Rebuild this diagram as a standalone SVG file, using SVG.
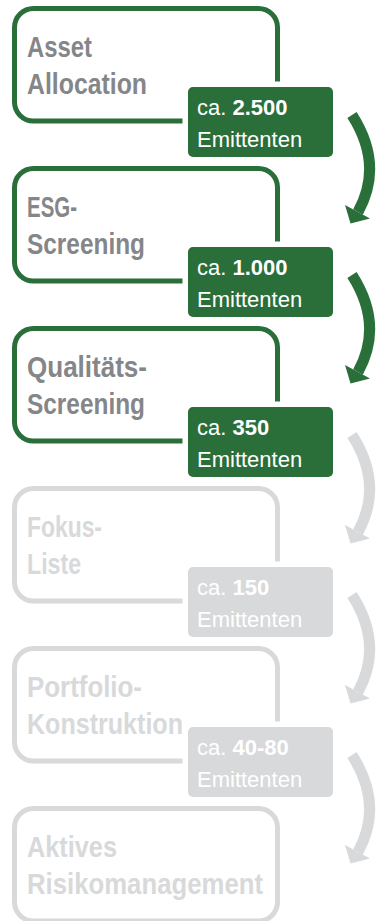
<svg xmlns="http://www.w3.org/2000/svg" xmlns:xlink="http://www.w3.org/1999/xlink" width="376" height="921" viewBox="0 0 376 921">
<style>
.box{fill:#fff;stroke-width:5}
.on .box{stroke:#2a6e39}
.off .box{stroke:#d8d9da}
.t{font-family:"Liberation Sans",Arial,sans-serif;font-weight:bold;font-size:30px}
.on .t{fill:#858689}
.off .t{fill:#d8d9da}
.badge{stroke:#fff;stroke-width:11;paint-order:stroke}
.on .badge{fill:#2a6e39}
.off .badge{fill:#d8d9da}
.b{font-family:"Liberation Sans",Arial,sans-serif;font-size:22px;fill:#fff}
.b tspan{font-weight:bold}
.arr-on{color:#2a6e39}
.arr-off{color:#d8d9da}
</style>
<defs>
<g id="arrow">
<path d="M352,115 Q384,165 358,212" fill="none" stroke="currentColor" stroke-width="11"/>
<polygon points="345,205 370,218.5 350.5,223.5" fill="currentColor"/>
</g>
</defs>
<g id="connectors">
<use xlink:href="#arrow" class="arr-on"/>
<use xlink:href="#arrow" class="arr-on" transform="translate(0,160)"/>
<use xlink:href="#arrow" class="arr-off" transform="translate(0,320)"/>
<use xlink:href="#arrow" class="arr-off" transform="translate(0,480)"/>
<use xlink:href="#arrow" class="arr-off" transform="translate(0,640)"/>
</g>
<g id="asset-allocation" class="on">
<rect class="box" x="14.5" y="8.5" width="263" height="112.5" rx="19"/>
<text class="t" x="27" y="56.5" textLength="65" lengthAdjust="spacingAndGlyphs">Asset</text>
<text class="t" x="27" y="93.5" textLength="120" lengthAdjust="spacingAndGlyphs">Allocation</text>
<rect class="badge" x="188" y="87" width="145" height="70" rx="5"/>
<text class="b" x="197" y="115">ca. <tspan>2.500</tspan></text>
<text class="b" x="197" y="147">Emittenten</text>
</g>
<g id="esg-screening" class="on" transform="translate(0,160)">
<rect class="box" x="14.5" y="8.5" width="263" height="112.5" rx="19"/>
<text class="t" x="27" y="56.5" textLength="50" lengthAdjust="spacingAndGlyphs">ESG-</text>
<text class="t" x="27" y="93.5" textLength="118" lengthAdjust="spacingAndGlyphs">Screening</text>
<rect class="badge" x="188" y="87" width="145" height="70" rx="5"/>
<text class="b" x="197" y="115">ca. <tspan>1.000</tspan></text>
<text class="b" x="197" y="147">Emittenten</text>
</g>
<g id="qualitaets-screening" class="on" transform="translate(0,320)">
<rect class="box" x="14.5" y="8.5" width="263" height="112.5" rx="19"/>
<text class="t" x="27" y="56.5" textLength="120" lengthAdjust="spacingAndGlyphs">Qualitäts-</text>
<text class="t" x="27" y="93.5" textLength="118" lengthAdjust="spacingAndGlyphs">Screening</text>
<rect class="badge" x="188" y="87" width="145" height="70" rx="5"/>
<text class="b" x="197" y="115">ca. <tspan>350</tspan></text>
<text class="b" x="197" y="147">Emittenten</text>
</g>
<g id="fokus-liste" class="off" transform="translate(0,480)">
<rect class="box" x="14.5" y="8.5" width="263" height="112.5" rx="19"/>
<text class="t" x="27" y="56.5" textLength="75" lengthAdjust="spacingAndGlyphs">Fokus-</text>
<text class="t" x="27" y="93.5" textLength="54" lengthAdjust="spacingAndGlyphs">Liste</text>
<rect class="badge" x="188" y="87" width="145" height="70" rx="5"/>
<text class="b" x="197" y="115">ca. <tspan>150</tspan></text>
<text class="b" x="197" y="147">Emittenten</text>
</g>
<g id="portfolio-konstruktion" class="off" transform="translate(0,640)">
<rect class="box" x="14.5" y="8.5" width="263" height="112.5" rx="19"/>
<text class="t" x="27" y="56.5" textLength="115" lengthAdjust="spacingAndGlyphs">Portfolio-</text>
<text class="t" x="27" y="93.5" textLength="156" lengthAdjust="spacingAndGlyphs">Konstruktion</text>
<rect class="badge" x="188" y="87" width="145" height="70" rx="5"/>
<text class="b" x="197" y="115">ca. <tspan>40-80</tspan></text>
<text class="b" x="197" y="147">Emittenten</text>
</g>
<g id="aktives-risikomanagement" class="off" transform="translate(0,800)">
<rect class="box" x="14.5" y="8.5" width="263" height="112.5" rx="19"/>
<text class="t" x="27" y="56.5" textLength="90" lengthAdjust="spacingAndGlyphs">Aktives</text>
<text class="t" x="27" y="93.5" textLength="236" lengthAdjust="spacingAndGlyphs">Risikomanagement</text>
</g>
</svg>
